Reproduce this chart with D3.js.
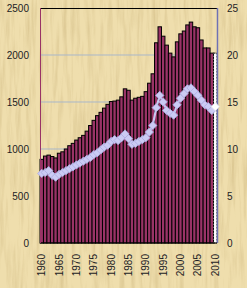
<!DOCTYPE html>
<html>
<head>
<meta charset="utf-8">
<script src="https://cdn.jsdelivr.net/npm/d3@7"></script>
<style>
    html, body { margin: 0; padding: 0; background: #ecd9a7; }
    svg { display: block; }
    text { font-family: "Liberation Sans", Arial, sans-serif; font-size: 10px; fill: #1c1c24; }
</style>
</head>
<body>
<svg id="chart" width="247" height="288"></svg>
<script>
/**
 * Data.
 */
const years = d3.range(1960, 2011);

const barValues = [
    890, 925, 935, 920, 905, 955, 970, 1000, 1035, 1060,
    1095, 1120, 1145, 1190, 1250, 1305, 1355, 1390, 1435, 1475,
    1505, 1510, 1520, 1555, 1640, 1625, 1520, 1540, 1550, 1560,
    1610, 1700, 1800, 2130, 2300, 2200, 2105, 2020, 1980, 2140,
    2225, 2255, 2320, 2350, 2300, 2290, 2160, 2075, 2075, 2020,
    2020
];

const lineValues = [
    7.4, 7.5, 7.7, 7.2, 7.0, 7.3, 7.5, 7.7, 7.9, 8.1,
    8.3, 8.5, 8.7, 8.9, 9.1, 9.4, 9.6, 9.9, 10.2, 10.4,
    10.8, 11.0, 10.9, 11.2, 11.6, 11.1, 10.5, 10.6, 10.8, 11.0,
    11.2, 11.8, 12.5, 14.4, 15.7, 15.0, 14.1, 13.8, 13.6, 14.7,
    15.4, 15.9, 16.4, 16.5, 16.1, 15.7, 15.2, 14.7, 14.5, 14.1,
    14.5
];

const leftTicks = [0, 500, 1000, 1500, 2000, 2500];
const rightTicks = [0, 5, 10, 15, 20, 25];
const yearTicks = d3.range(1960, 2011, 5);

/**
 * Visual configs.
 */
const visWidth = 247, visHeight = 288;
const margin = { top: 8, right: 30, bottom: 45, left: 40 };
const width = visWidth - margin.left - margin.right,
    height = visHeight - margin.top - margin.bottom;

const data = years.map((y, i) => ({ year: y, bar: barValues[i], line: lineValues[i], last: i === years.length - 1 }));

const svg = d3.select('#chart');

// Parchment-like background: base colour plus streaky noise
const defs = svg.append('defs');
const paper = defs.append('filter').attr('id', 'paper').attr('x', 0).attr('y', 0).attr('width', '100%').attr('height', '100%');
paper.append('feTurbulence').attr('type', 'fractalNoise').attr('baseFrequency', '0.25 0.02').attr('numOctaves', 3).attr('seed', 7);
paper.append('feColorMatrix').attr('values', '0 0 0 0 0.62  0 0 0 0 0.48  0 0 0 0 0.22  2.2 0 0 0 -0.95');

svg.append('rect').attr('width', visWidth).attr('height', visHeight).attr('fill', '#efdead');
svg.append('rect').attr('width', visWidth).attr('height', visHeight).attr('filter', 'url(#paper)').attr('opacity', 0.55);

/**
 * Scales.
 */
const xScale = d3.scaleBand().domain(years).range([margin.left, margin.left + width]).padding(0),
    yLeft = d3.scaleLinear().domain([0, 2500]).range([margin.top + height, margin.top]),
    yRight = d3.scaleLinear().domain([0, 25]).range([margin.top + height, margin.top]);

// Gridlines
svg.append('g').attr('class', 'grid')
    .selectAll('line').data(leftTicks.filter(d => d > 0 && d < 2500)).join('line')
    .attr('x1', margin.left).attr('x2', margin.left + width)
    .attr('y1', d => yLeft(d)).attr('y2', d => yLeft(d))
    .attr('stroke', '#a9b7c9').attr('stroke-width', 1);

// Bars
svg.append('g').attr('class', 'bars')
    .selectAll('rect').data(data).join('rect')
    .attr('x', d => xScale(d.year))
    .attr('y', d => yLeft(d.bar))
    .attr('width', xScale.bandwidth())
    .attr('height', d => yLeft(0) - yLeft(d.bar))
    .attr('fill', d => d.last ? '#ffffff' : '#993366')
    .attr('stroke', '#000')
    .attr('stroke-width', 1)
    .attr('stroke-dasharray', d => d.last ? '2,1' : null);

// Frame lines
svg.append('line')
    .attr('x1', margin.left).attr('x2', margin.left + width)
    .attr('y1', margin.top + 0.5).attr('y2', margin.top + 0.5)
    .attr('stroke', '#000');
svg.append('line')
    .attr('x1', margin.left).attr('x2', margin.left + width)
    .attr('y1', margin.top + height).attr('y2', margin.top + height)
    .attr('stroke', '#000');
svg.append('line')
    .attr('x1', margin.left + 0.5).attr('x2', margin.left + 0.5)
    .attr('y1', margin.top).attr('y2', margin.top + height)
    .attr('stroke', '#993366');
svg.append('line')
    .attr('x1', margin.left + width + 0.5).attr('x2', margin.left + width + 0.5)
    .attr('y1', margin.top).attr('y2', margin.top + height)
    .attr('stroke', '#6f72b4').attr('stroke-width', 1.5);

// Line series
const line = d3.line()
    .x(d => xScale(d.year) + xScale.bandwidth() / 2)
    .y(d => yRight(d.line));

svg.append('path').datum(data)
    .attr('d', line)
    .attr('fill', 'none')
    .attr('stroke', '#c9c9f2')
    .attr('stroke-width', 2.2);

svg.append('g').attr('class', 'markers')
    .selectAll('path').data(data).join('path')
    .attr('d', d3.symbol().type(d3.symbolSquare).size(34))
    .attr('transform', d => 'translate(' + (xScale(d.year) + xScale.bandwidth() / 2) + ',' + yRight(d.line) + ') rotate(45)')
    .attr('fill', d => d.last ? '#ffffff' : '#cbcbf4')
    .attr('stroke', d => d.last ? '#e0e0f0' : '#aeaee2')
    .attr('stroke-width', 0.8);

/**
 * Axes.
 */
svg.append('g').attr('class', 'y-left')
    .selectAll('text').data(leftTicks).join('text')
    .attr('x', 29).attr('y', d => yLeft(d)).attr('dy', '0.35em')
    .attr('text-anchor', 'end')
    .text(d => d);

svg.append('g').attr('class', 'y-right')
    .selectAll('text').data(rightTicks).join('text')
    .attr('x', 227).attr('y', d => yRight(d)).attr('dy', '0.35em')
    .attr('text-anchor', 'start')
    .text(d => d);

svg.append('g').attr('class', 'x-axis')
    .selectAll('text').data(yearTicks).join('text')
    .attr('transform', d => 'translate(' + (xScale(d) + xScale.bandwidth() / 2 + 3.5) + ',254) rotate(-90)')
    .attr('text-anchor', 'end')
    .text(d => d);
</script>
</body>
</html>
